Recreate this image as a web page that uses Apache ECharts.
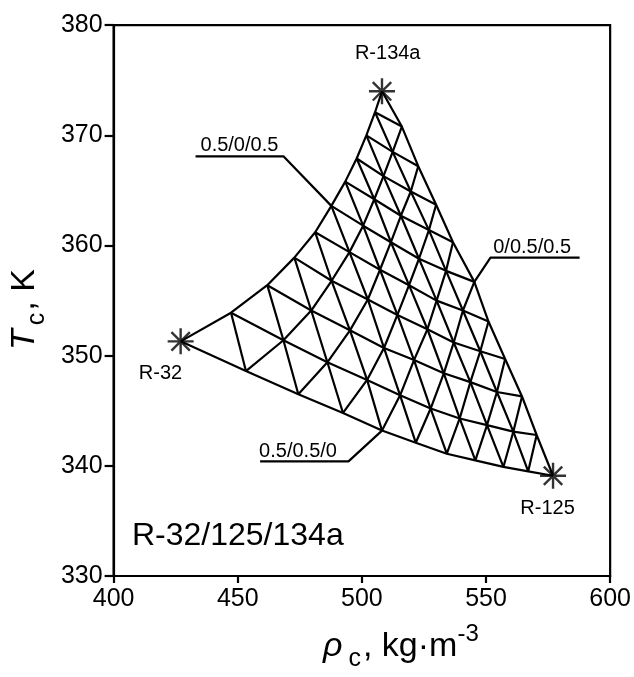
<!DOCTYPE html>
<html>
<head>
<meta charset="utf-8">
<script src="https://cdn.jsdelivr.net/npm/echarts@6/dist/echarts.min.js"></script>
<style>
html, body { margin: 0; padding: 0; background: #fff; }
#chart { width: 634px; height: 677px; }
</style>
</head>
<body>
<div id="chart"></div>
<script>
// critical density (kg/m3) and critical temperature (K) of R-32/125/134a mixtures
// row j = R-134a fraction j/10, index i = R-125 fraction i/10, R-32 is the rest
const rhoRows = [
  [427.0, 453.3, 474.4, 492.4, 508.1, 521.7, 534.2, 545.7, 557.0, 567.0, 577.0],
  [447.3, 468.4, 486.1, 502.1, 515.4, 527.7, 539.4, 550.4, 561.0, 570.4],
  [461.9, 479.6, 495.2, 508.9, 521.0, 533.0, 543.7, 554.4, 564.5],
  [472.8, 487.8, 502.4, 514.3, 526.4, 537.0, 547.7, 557.7],
  [481.2, 495.0, 507.3, 519.0, 530.1, 540.7, 551.0],
  [487.7, 500.5, 511.7, 523.0, 533.9, 545.3],
  [493.3, 505.0, 515.7, 527.0, 536.7],
  [497.9, 508.7, 519.7, 529.9],
  [501.8, 512.4, 522.7],
  [505.3, 516.1],
  [508.1]
];
const tcRows = [
  [351.3, 348.6, 346.5, 344.8, 343.2, 342.1, 341.1, 340.5, 339.9, 339.5, 339.1],
  [353.9, 351.4, 349.4, 347.8, 346.4, 345.2, 344.3, 343.7, 343.1, 342.8],
  [356.4, 354.1, 352.3, 350.7, 349.6, 348.4, 347.6, 346.7, 346.3],
  [358.9, 356.8, 355.1, 353.7, 352.4, 351.2, 350.4, 349.7],
  [361.2, 359.4, 357.8, 356.4, 355.0, 354.1, 353.1],
  [363.6, 361.8, 360.3, 358.8, 357.7, 356.7],
  [365.8, 364.2, 362.7, 361.4, 360.3],
  [367.9, 366.3, 364.9, 363.7],
  [370.0, 368.5, 367.2],
  [372.1, 370.8],
  [374.0]
];
const pureNames = ['R-32', 'R-134a', 'R-125'];
const noteNames = ['0.5/0/0.5', '0/0.5/0.5', '0.5/0.5/0'];
const systemName = 'R-32/125/134a';
const xTicks = [400, 450, 500, 550, 600];
const yTicks = [330, 340, 350, 360, 370, 380];

const FONT = "'Liberation Sans', Arial, Helvetica, sans-serif";
const chart = echarts.init(document.getElementById('chart'));

const node = (i, j) => [rhoRows[j][i], tcRows[j][i]];

// mesh: constant R-134a, constant R-125, constant R-32
const meshLines = [];
for (let j = 0; j < 10; j++) meshLines.push(rhoRows[j].map((r, i) => node(i, j)));
for (let i = 0; i < 10; i++) {
  const pts = [];
  for (let j = 0; j <= 10 - i; j++) pts.push(node(i, j));
  meshLines.push(pts);
}
for (let s = 1; s <= 10; s++) {
  const pts = [];
  for (let i = 0; i <= s; i++) pts.push(node(i, s - i));
  meshLines.push(pts);
}

// leader lines for the 50/50 binaries (underline + pointer)
const leaders = [
  [[433.0, 368.1], [468.4, 368.1], node(0, 5)],
  [[587.7, 358.9], [551.8, 358.9], node(5, 5)],
  [[459.0, 340.4], [494.6, 340.4], node(4, 0)]
];

const STAR = 'path://M0,-13L0,13M-13,0L13,0M-9.2,-9.2L9.2,9.2M-9.2,9.2L9.2,-9.2';

const lineSeries = meshLines.concat(leaders).map(pts => ({
  type: 'line',
  data: pts,
  symbol: 'none',
  silent: true,
  lineStyle: { color: '#000', width: 2.2 },
  z: 2
}));

const option = {
  animation: false,
  grid: {
    left: 110.7, right: 23, top: 25.2, bottom: 94,
    show: true, borderColor: '#000', borderWidth: 2.2
  },
  xAxis: {
    type: 'value',
    min: xTicks[0], max: xTicks[xTicks.length - 1], interval: 50,
    axisLine: { show: true, onZero: false, lineStyle: { color: '#000', width: 2.2 } },
    axisTick: { show: true, length: 7, lineStyle: { color: '#000', width: 2.2 } },
    axisLabel: { color: '#000', fontSize: 25, fontFamily: FONT, margin: 11 },
    splitLine: { show: false },
    name: '{i|ρ}{sub|c}{n|, kg·m}{sup|-3}',
    nameLocation: 'middle',
    nameGap: 46,
    nameTextStyle: {
      color: '#000', fontFamily: FONT, fontSize: 34, padding: [0, 0, 0, 78],
      rich: {
        i: { fontStyle: 'italic', fontSize: 34, lineHeight: 50, fontFamily: FONT, color: '#000' },
        sub: { fontSize: 25, lineHeight: 37, verticalAlign: 'bottom', padding: [0, 2, 0, 6], fontFamily: FONT, color: '#000' },
        n: { fontSize: 34, lineHeight: 50, fontFamily: FONT, color: '#000' },
        sup: { fontSize: 24, lineHeight: 15, verticalAlign: 'top', fontFamily: FONT, color: '#000' }
      }
    }
  },
  yAxis: {
    type: 'value',
    min: yTicks[0], max: yTicks[yTicks.length - 1], interval: 10,
    axisLine: { show: true, onZero: false, lineStyle: { color: '#000', width: 2.2 } },
    axisTick: { show: true, length: 9, lineStyle: { color: '#000', width: 2.2 } },
    axisLabel: { color: '#000', fontSize: 25, fontFamily: FONT, margin: 11 },
    splitLine: { show: false },
    name: '{i|T}{sub|c}{n|, K}',
    nameLocation: 'middle',
    nameRotate: 90,
    nameGap: 54,
    nameTextStyle: {
      color: '#000', fontFamily: FONT, fontSize: 34, padding: [0, 18, 0, 0],
      rich: {
        i: { fontStyle: 'italic', fontSize: 34, lineHeight: 50, fontFamily: FONT, color: '#000' },
        sub: { fontSize: 25, lineHeight: 37, verticalAlign: 'bottom', padding: [0, 2, 0, 4], fontFamily: FONT, color: '#000' },
        n: { fontSize: 34, lineHeight: 50, fontFamily: FONT, color: '#000' }
      }
    }
  },
  series: lineSeries.concat([{
    type: 'scatter',
    data: [node(0, 0), node(0, 10), node(10, 0)],
    symbol: STAR,
    symbolSize: 26,
    silent: true,
    itemStyle: { color: 'transparent', borderColor: '#000', borderWidth: 2.4 },
    z: 5
  }])
};
chart.setOption(option);

// text annotations anchored in data units
const notes = [
  { text: pureNames[1], at: [510.4, 377.42], size: 20, align: 'center' },
  { text: pureNames[0], at: [418.9, 348.36], size: 20, align: 'center' },
  { text: pureNames[2], at: [574.8, 336.11], size: 20, align: 'center' },
  { text: noteNames[0], at: [435.0, 369.04], size: 20, align: 'left' },
  { text: noteNames[1], at: [552.9, 359.86], size: 20, align: 'left' },
  { text: noteNames[2], at: [458.6, 341.26], size: 20, align: 'left' },
  { text: systemName, at: [407.4, 333.65], size: 32, align: 'left' }
];
chart.setOption({
  graphic: notes.map(n => {
    const p = chart.convertToPixel({ xAxisIndex: 0, yAxisIndex: 0 }, n.at);
    return {
      type: 'text', x: p[0], y: p[1], silent: true, z: 10,
      style: {
        text: n.text, fill: '#000', fontSize: n.size, fontFamily: FONT,
        align: n.align, verticalAlign: 'middle'
      }
    };
  })
});
</script>
</body>
</html>
